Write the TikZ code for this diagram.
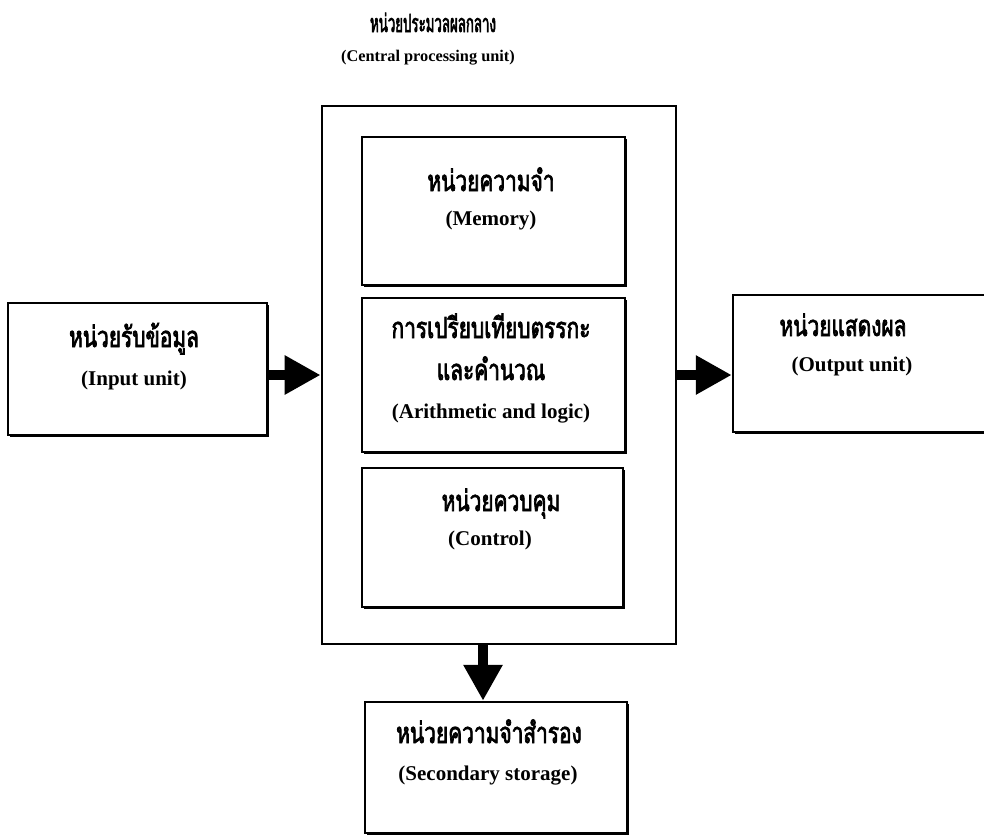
\documentclass[tikz,border=0pt]{standalone}
\usepackage{fontspec}
\usetikzlibrary{arrows.meta,fit,shadows}
% heavy, narrow Thai faces: one for the heading, one for the unit boxes
\newfontfamily\thaihead[Script=Thai,FakeStretch=0.53,FakeBold=2.3]{Loma}
\newfontfamily\thaitext[Script=Thai,FakeStretch=0.72,FakeBold=2.4]{Loma}
\newfontfamily\latintext{Liberation Serif}

\tikzset{
  cpubox/.style={draw, line width=2.8pt, inner sep=0pt},
  unitbox/.style={draw, line width=2.5pt, fill=white, inner sep=0pt,
    drop shadow={shadow xshift=1.8pt, shadow yshift=-1.8pt, fill=black, opacity=1}},
  thhead/.style={anchor=base, inner sep=0pt,
    font=\thaihead\fontsize{25}{28}\selectfont},
  enhead/.style={anchor=base, inner sep=0pt,
    font=\latintext\bfseries\fontsize{16.3}{19}\selectfont},
  thlabel/.style={anchor=base, inner sep=0pt,
    font=\thaitext\fontsize{29}{32}\selectfont},
  enlabel/.style={anchor=base, inner sep=0pt,
    font=\latintext\bfseries\fontsize{21}{24}\selectfont},
  flow/.style={line width=9.5pt, -{Triangle[length=36pt,width=37pt]}}
}

\begin{document}
\begin{tikzpicture}[x=1pt,y=-1pt]
  \useasboundingbox (0,0) rectangle (984,836);

  % central processing unit frame
  \node[cpubox, fit={(322,106) (676,644)}] (cpu) {};
  \node[thhead] (cputh) at (433,32) {หน่วยประมวลผลกลาง};
  \node[enhead] (cpuen) at (428,61) {(Central processing unit)};

  % parts inside the processor
  \node[unitbox, fit={(362,137) (625,285)}] (mem) {};
  \node[thlabel] (memth) at (491,191) {หน่วยความจำ};
  \node[enlabel] (memen) at (491,225) {(Memory)};

  \node[unitbox, fit={(362,298) (625,452)}] (alu) {};
  \node[thlabel] (aluth1) at (491,338) {การเปรียบเทียบตรรกะ};
  \node[thlabel] (aluth2) at (491,380) {และคำนวณ};
  \node[enlabel] (aluen) at (491,418) {(Arithmetic and logic)};

  \node[unitbox, fit={(362,468) (623,607)}] (ctl) {};
  \node[thlabel] (ctlth) at (501,511) {หน่วยควบคุม};
  \node[enlabel] (ctlen) at (490,545) {(Control)};

  % input, output and storage units
  \node[unitbox, fit={(8,303) (267,435)}] (in) {};
  \node[thlabel] (inth) at (134,347) {หน่วยรับข้อมูล};
  \node[enlabel] (inen) at (134,385) {(Input unit)};

  \node[unitbox, fit={(733,295) (1000,432)}] (out) {};
  \node[thlabel] (outth) at (843,336) {หน่วยแสดงผล};
  \node[enlabel] (outen) at (852,371) {(Output unit)};

  \node[unitbox, fit={(365,702) (627,833)}] (store) {};
  \node[thlabel] (storeth) at (489,743) {หน่วยความจำสำรอง};
  \node[enlabel] (storeen) at (488,780) {(Secondary storage)};

  % data flow
  \coordinate (drop) at (483,644);
  \draw[flow] (in.east |- cpu.west) -- (cpu.west);
  \draw[flow] (cpu.east) -- (out.west |- cpu.east);
  \draw[flow] (cpu.south -| drop) -- (store.north -| drop);
\end{tikzpicture}
\end{document}
